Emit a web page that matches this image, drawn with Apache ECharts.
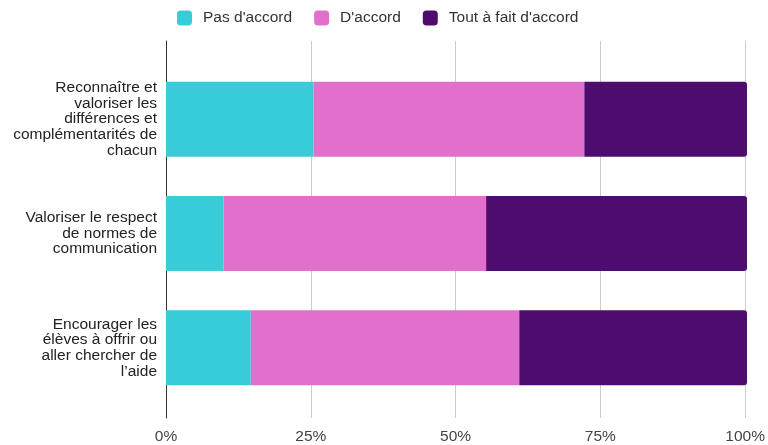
<!DOCTYPE html>
<html>
<head>
<meta charset="utf-8">
<script src="https://cdn.jsdelivr.net/npm/echarts@6/dist/echarts.min.js"></script>
<style>html,body{margin:0;padding:0;background:#fff}#c{width:768px;height:445px}</style>
</head>
<body>
<div id="c"></div>
<script>
var categories = [
  "Reconnaître et\nvaloriser les\ndifférences et\ncomplémentarités de\nchacun",
  "Valoriser le respect\nde normes de\ncommunication",
  "Encourager les\nélèves à offrir ou\naller chercher de\nl’aide"
];
var seriesNames = ["Pas d'accord", "D'accord", "Tout à fait d'accord"];
var pasDaccord = [25.4, 9.9, 14.6];
var daccord = [46.6, 45.2, 46.2];
var toutAFait = [28.0, 44.9, 39.2];
var tickValues = [0, 25, 50, 75, 100];
var colors = ["#38CCD9", "#E070CB", "#4E0D6E"];

var font = "'Liberation Sans', Arial, sans-serif";
var chart = echarts.init(document.getElementById('c'), null, {renderer: 'canvas'});
chart.setOption({
  animation: false,
  textStyle: {fontFamily: font},
  legend: {
    top: 10, left: 177, padding: 0,
    itemWidth: 15, itemHeight: 15, itemGap: 22,
    icon: 'roundRect',
    textStyle: {fontSize: 15.5, color: '#333', fontFamily: font, padding: [0, 0, 0, 6]},
    data: seriesNames
  },
  grid: [
    {left: 166, right: 21, top: 62, bottom: 40, containLabel: false},
    {left: 166, right: 21, top: 41, bottom: 22, containLabel: false}
  ],
  xAxis: [
    {gridIndex: 0, type: 'value', min: 0, max: 100, interval: 25,
     axisLine: {show: false}, axisTick: {show: false}, axisLabel: {show: false}, splitLine: {show: false}},
    {gridIndex: 1, type: 'value', min: 0, max: 100, interval: 25,
     axisLine: {show: false}, axisTick: {show: false},
     axisLabel: {formatter: function(v){ return tickValues.indexOf(v) >= 0 ? v + '%' : ''; }, color: '#444', fontSize: 15.5, margin: 11, fontFamily: font},
     splitLine: {show: true, lineStyle: {color: '#cccccc', width: 1}}}
  ],
  yAxis: [
    {gridIndex: 0, type: 'category', inverse: true, data: categories,
     axisLine: {show: false}, axisTick: {show: false},
     axisLabel: {color: '#222', fontSize: 15.5, lineHeight: 15.7, margin: 9, align: 'right', fontFamily: font}},
    {gridIndex: 1, type: 'category', data: [''],
     axisLine: {show: true, lineStyle: {color: '#333', width: 1}}, axisTick: {show: false}, axisLabel: {show: false}}
  ],
  series: [
    {name: seriesNames[0], type: 'bar', stack: 'a', xAxisIndex: 0, yAxisIndex: 0, data: pasDaccord, barWidth: 75, itemStyle: {color: colors[0]}},
    {name: seriesNames[1], type: 'bar', stack: 'a', xAxisIndex: 0, yAxisIndex: 0, data: daccord, barWidth: 75, itemStyle: {color: colors[1]}},
    {name: seriesNames[2], type: 'bar', stack: 'a', xAxisIndex: 0, yAxisIndex: 0, data: toutAFait, barWidth: 75, itemStyle: {color: colors[2], borderRadius: [0, 3, 3, 0]}}
  ]
});
</script>
</body>
</html>
